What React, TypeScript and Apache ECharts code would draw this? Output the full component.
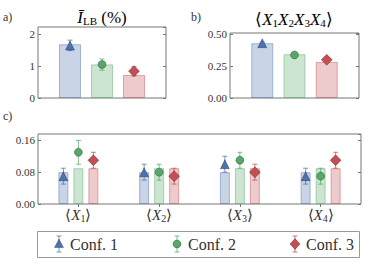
import React, { useEffect, useRef } from "react";
import * as echarts from "echarts";

const confs = ["Conf. 1", "Conf. 2", "Conf. 3"];
const colors = ["#4C72B0", "#55A868", "#C44E52"];
const symbols = ["triangle", "circle", "diamond"];
const symbolSizes = [9, 8, 11];

// panel a: I_LB (%)
const aBars = [1.68, 1.05, 0.72];
const aMarks = [1.64, 1.05, 0.84];
const aLow = [1.48, 0.87, 0.69];
const aHigh = [1.81, 1.22, 0.98];

// panel b: <X1X2X3X4>
const bBars = [0.43, 0.343, 0.283];
const bMarks = [0.43, 0.338, 0.3];
const bLow = [0.422, 0.332, 0.292];
const bHigh = [0.438, 0.344, 0.308];

// panel c: <X_i>
const cCats = ["1", "2", "3", "4"];
const cBars = [
  [0.08, 0.08, 0.08, 0.08],
  [0.09, 0.09, 0.09, 0.09],
  [0.09, 0.09, 0.09, 0.09],
];
const cMarks = [
  [0.07, 0.08, 0.1, 0.07],
  [0.13, 0.08, 0.11, 0.07],
  [0.11, 0.07, 0.08, 0.11],
];
const cLow = [
  [0.05, 0.06, 0.08, 0.05],
  [0.1, 0.06, 0.09, 0.05],
  [0.09, 0.05, 0.06, 0.09],
];
const cHigh = [
  [0.09, 0.1, 0.12, 0.09],
  [0.16, 0.1, 0.13, 0.09],
  [0.13, 0.09, 0.1, 0.13],
];

const FONT = "Liberation Serif";
const TXT = "#333";
const SPINE = "#777";

function alpha(hex: string, a: number) {
  const r = parseInt(hex.slice(1, 3), 16);
  const g = parseInt(hex.slice(3, 5), 16);
  const b = parseInt(hex.slice(5, 7), 16);
  return `rgba(${r},${g},${b},${a})`;
}

function errRender(offsetFor: (k: number) => number) {
  return (params: any, api: any) => {
    const x = api.value(0);
    const lo = api.value(1);
    const hi = api.value(2);
    const k = api.value(3);
    const p1 = api.coord([x, lo]);
    const p2 = api.coord([x, hi]);
    const dx = offsetFor(k);
    const cx = p1[0] + dx;
    const cap = 2.5;
    const style = { stroke: alpha(colors[k], 0.75), lineWidth: 1 };
    return {
      type: "group",
      children: [
        { type: "line", shape: { x1: cx, y1: p1[1], x2: cx, y2: p2[1] }, style },
        { type: "line", shape: { x1: cx - cap, y1: p1[1], x2: cx + cap, y2: p1[1] }, style },
        { type: "line", shape: { x1: cx - cap, y1: p2[1], x2: cx + cap, y2: p2[1] }, style },
      ],
    };
  };
}

function yAxes(gridIndex: number, max: number, interval: number, fmt: (v: number) => string) {
  const common = {
    type: "value",
    gridIndex,
    min: 0,
    max,
    interval,
    splitLine: { show: false },
    axisLine: { show: false },
    axisTick: { show: true, inside: true, length: 3, lineStyle: { color: SPINE } },
  };
  return [
    {
      ...common,
      position: "left",
      axisLabel: {
        show: true,
        showMaxLabel: false,
        formatter: fmt,
        fontFamily: FONT,
        fontSize: 11,
        color: TXT,
        margin: 3,
      },
    },
    { ...common, position: "right", axisLabel: { show: false } },
  ];
}

export default function App() {
  const ref = useRef<HTMLDivElement>(null);
  useEffect(() => {
    document.body.style.margin = "0";
    const chart = echarts.init(ref.current!, undefined, { renderer: "svg" });

    const series: any[] = [];

    const simple = (
      idx: number,
      bars: number[],
      marks: number[],
      low: number[],
      high: number[]
    ) => {
      const xi = idx;
      const yi = idx * 2;
      series.push({
        type: "bar",
        xAxisIndex: xi,
        yAxisIndex: yi,
        barWidth: 22,
        z: 2,
        data: bars.map((v, i) => ({
          value: [i + 1, v],
          itemStyle: {
            color: alpha(colors[i], 0.3),
            borderColor: alpha(colors[i], 0.45),
            borderWidth: 1,
          },
        })),
      });
      series.push({
        type: "custom",
        xAxisIndex: xi,
        yAxisIndex: yi,
        z: 3,
        encode: { x: 0, y: [1, 2] },
        renderItem: errRender(() => 0),
        data: bars.map((_, i) => [i + 1, low[i], high[i], i]),
      });
      series.push({
        type: "scatter",
        xAxisIndex: xi,
        yAxisIndex: yi,
        z: 4,
        data: marks.map((v, i) => ({
          value: [i + 1, v],
          symbol: symbols[i],
          symbolSize: symbolSizes[i],
          itemStyle: { color: colors[i], borderColor: "rgba(0,0,0,0.35)", borderWidth: 0.8, opacity: 1 },
        })),
      });
    };
    simple(0, aBars, aMarks, aLow, aHigh);
    simple(1, bBars, bMarks, bLow, bHigh);

    const offs = [-15, 0, 15];
    confs.forEach((name, k) => {
      series.push({
        type: "bar",
        name,
        xAxisIndex: 2,
        yAxisIndex: 4,
        barWidth: 10,
        barGap: "50%",
        z: 2,
        itemStyle: {
          color: alpha(colors[k], 0.3),
          borderColor: alpha(colors[k], 0.45),
          borderWidth: 1,
        },
        data: cBars[k],
      });
    });
    confs.forEach((name, k) => {
      series.push({
        type: "custom",
        xAxisIndex: 2,
        yAxisIndex: 4,
        z: 3,
        encode: { x: 0, y: [1, 2] },
        renderItem: errRender((kk) => offs[kk]),
        data: cCats.map((_, j) => [j, cLow[k][j], cHigh[k][j], k]),
      });
    });
    confs.forEach((name, k) => {
      series.push({
        type: "scatter",
        xAxisIndex: 2,
        yAxisIndex: 4,
        z: 4,
        symbol: symbols[k],
        symbolSize: symbolSizes[k],
        symbolOffset: [offs[k], 0],
        itemStyle: { color: colors[k], borderColor: "rgba(0,0,0,0.35)", borderWidth: 0.8, opacity: 1 },
        data: cCats.map((_, j) => [j, cMarks[k][j]]),
      });
    });

    const rich = {
      n: { fontFamily: FONT, fontSize: 17, color: TXT, lineHeight: 18 },
      i: { fontFamily: FONT, fontSize: 17, fontStyle: "italic", color: TXT, lineHeight: 18 },
      s: { fontFamily: FONT, fontSize: 11, color: TXT, lineHeight: 8, verticalAlign: "bottom" },
    };
    const richC = {
      n: { fontFamily: FONT, fontSize: 15, color: TXT, lineHeight: 16 },
      i: { fontFamily: FONT, fontSize: 15, fontStyle: "italic", color: TXT, lineHeight: 16 },
      s: { fontFamily: FONT, fontSize: 10, color: TXT, lineHeight: 7, verticalAlign: "bottom" },
    };
    const xs = (n: string) => `{i|X}{s|${n}}`;

    const legendXs = [59, 177, 295];
    const ly = 244;
    const legendShapes: any[] = [
      {
        type: "rect",
        z: 10,
        shape: { x: 37.5, y: 231.5, width: 322, height: 26 },
        style: { fill: "#fff", stroke: "#999", lineWidth: 1 },
      },
    ];
    const legendTexts: any[] = [];
    confs.forEach((name, k) => {
      const x = legendXs[k];
      const es = { stroke: alpha(colors[k], 0.75), lineWidth: 1 };
      legendShapes.push(
        { type: "line", z: 11, shape: { x1: x, y1: ly - 8, x2: x, y2: ly + 8 }, style: es },
        { type: "line", z: 11, shape: { x1: x - 2.5, y1: ly - 8, x2: x + 2.5, y2: ly - 8 }, style: es },
        { type: "line", z: 11, shape: { x1: x - 2.5, y1: ly + 8, x2: x + 2.5, y2: ly + 8 }, style: es }
      );
      const ms = { fill: colors[k], stroke: "rgba(0,0,0,0.35)", lineWidth: 0.8 };
      if (k === 0)
        legendShapes.push({
          type: "polygon",
          z: 12,
          shape: { points: [[x, ly - 5], [x - 4.5, ly + 3.5], [x + 4.5, ly + 3.5]] },
          style: ms,
        });
      else if (k === 1)
        legendShapes.push({ type: "circle", z: 12, shape: { cx: x, cy: ly, r: 4 }, style: ms });
      else
        legendShapes.push({
          type: "polygon",
          z: 12,
          shape: { points: [[x, ly - 5.5], [x + 5, ly], [x, ly + 5.5], [x - 5, ly]] },
          style: ms,
        });
      legendTexts.push({
        type: "text",
        z: 13,
        style: {
          x: x + 11,
          y: ly - 8,
          text: name,
          fill: TXT,
          fontFamily: FONT,
          fontSize: 16,
        },
      });
    });

    const panelLabel = (t: string, x: number, y: number) => ({
      type: "text",
      style: { x, y: y - 6, text: t, fill: TXT, fontFamily: FONT, fontSize: 12 },
    });

    chart.setOption({
      animation: false,
      textStyle: { fontFamily: FONT },
      grid: [
        { left: 38, top: 27, width: 128, height: 71, show: true, borderColor: SPINE, borderWidth: 1 },
        { left: 230, top: 33, width: 129, height: 65, show: true, borderColor: SPINE, borderWidth: 1 },
        { left: 38, top: 134, width: 323, height: 70, show: true, borderColor: SPINE, borderWidth: 1 },
      ],
      xAxis: [
        { type: "value", gridIndex: 0, min: 0, max: 4, show: false },
        { type: "value", gridIndex: 1, min: 0, max: 4, show: false },
        {
          type: "category",
          gridIndex: 2,
          data: cCats,
          axisLine: { show: false },
          axisTick: { show: false },
          axisLabel: {
            interval: 0,
            formatter: (v: string) => `{n|⟨}${xs(v)}{n|⟩}`,
            margin: 3,
            rich: richC,
          },
        },
        {
          type: "category",
          gridIndex: 2,
          position: "top",
          data: cCats,
          axisLine: { show: false },
          axisLabel: { show: false },
          axisTick: { show: true, inside: true, length: 3, alignWithLabel: true, lineStyle: { color: SPINE } },
        },
      ],
      yAxis: [
        ...yAxes(0, 2.22, 1, (v: number) => `${v}`),
        ...yAxes(1, 0.51, 0.25, (v: number) => v.toFixed(2)),
        ...yAxes(2, 0.176, 0.08, (v: number) => v.toFixed(2)),
      ],
      series,
      graphic: [
        panelLabel("a)", 3, 17),
        panelLabel("b)", 191, 17),
        panelLabel("c)", 3, 116),
        {
          type: "text",
          style: {
            x: 102,
            y: 17,
            text: "{i|Ī}{s|LB}{n| (%)}",
            rich,
            align: "center",
            verticalAlign: "middle",
          },
        },
        {
          type: "text",
          style: {
            x: 294,
            y: 19,
            text: `{n|⟨}${xs("1")}${xs("2")}${xs("3")}${xs("4")}{n|⟩}`,
            rich,
            align: "center",
            verticalAlign: "middle",
          },
        },
        ...legendShapes,
        ...legendTexts,
      ],
    });
    return () => chart.dispose();
  }, []);
  return <div ref={ref} style={{ width: 374, height: 280 }} />;
}
